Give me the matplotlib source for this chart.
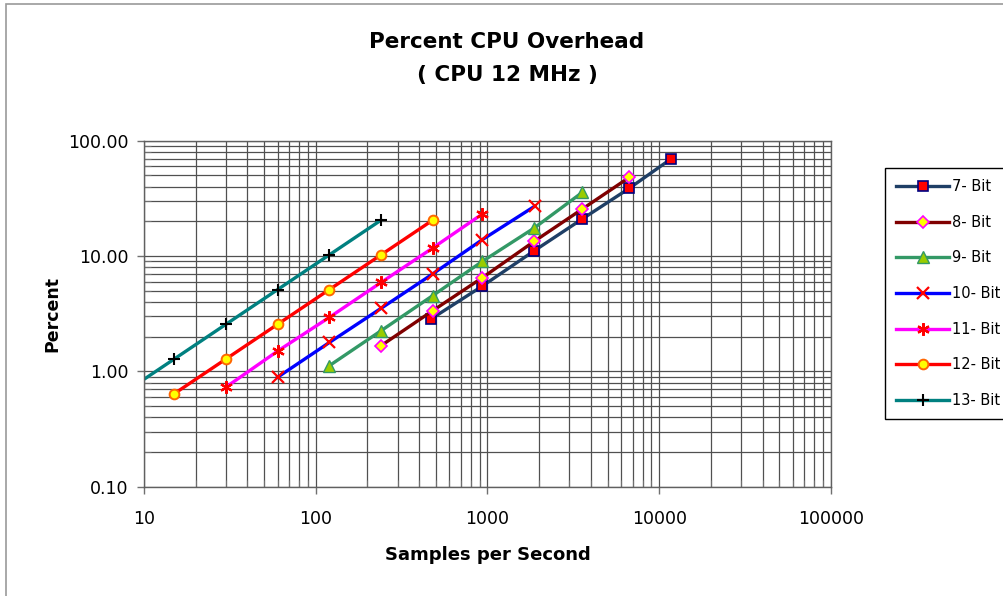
import matplotlib
matplotlib.use("Agg")
import matplotlib.pyplot as plt
from matplotlib.ticker import FixedLocator, FuncFormatter, LogLocator, NullFormatter
from matplotlib.patches import Rectangle

plt.rcParams['font.family'] = ['DejaVu Sans']

# ---- data ----
labels = ["7- Bit", "8- Bit", "9- Bit", "10- Bit", "11- Bit", "12- Bit", "13- Bit"]

x_7 = [470, 935, 1870, 3570, 6680, 11700]
y_7 = [2.85, 5.5, 11.1, 21.0, 38.6, 69.5]

x_8 = [240, 480, 935, 1870, 3570, 6680]
y_8 = [1.67, 3.36, 6.5, 13.4, 25.6, 48.0]

x_9 = [120, 240, 480, 935, 1870, 3570]
y_9 = [1.12, 2.25, 4.54, 9.0, 17.5, 35.7]

x_10 = [60, 120, 240, 480, 935, 1880]
y_10 = [0.89, 1.78, 3.52, 7.0, 13.9, 27.0]

x_11 = [30, 60, 120, 240, 480, 935]
y_11 = [0.73, 1.50, 2.94, 5.9, 11.75, 23.2]

x_12 = [15, 30, 60, 120, 240, 480]
y_12 = [0.64, 1.28, 2.56, 5.12, 10.24, 20.48]

x_13 = [7.5, 15, 30, 60, 120, 240]
y_13 = [0.64, 1.28, 2.56, 5.12, 10.24, 20.48]

x_ticks = [10, 100, 1000, 10000, 100000]
y_ticks = [0.1, 1, 10, 100]

series = [
    (x_7, y_7, dict(color='#1F3F66', marker='s', ms=7, mfc='#FF0000', mec='#000080', mew=1.2)),
    (x_8, y_8, dict(color='#800000', marker='D', ms=6, mfc='#FFFF00', mec='#FF00FF', mew=1.2)),
    (x_9, y_9, dict(color='#339966', marker='^', ms=8, mfc='#99CC00', mec='#339966', mew=1.0)),
    (x_10, y_10, dict(color='#0000FF', marker='x', ms=8, mfc='#FF0000', mec='#FF0000', mew=1.6)),
    (x_11, y_11, dict(color='#FF00FF', marker=(6, 2, 0), ms=9, mfc='#FF0000', mec='#FF0000', mew=1.6)),
    (x_12, y_12, dict(color='#FF0000', marker='o', ms=7, mfc='#FFFF00', mec='#FF6600', mew=1.4)),
    (x_13, y_13, dict(color='#008080', marker='+', ms=9, mfc='#000000', mec='#000000', mew=1.5)),
]

fig = plt.figure(figsize=(10.04, 5.96), dpi=100)
fig.patch.set_facecolor('white')

# outer chart-area border (right and bottom edges lie outside the picture)
fig.patches.append(Rectangle((6 / 1004, -0.2), 1.2, 1.2 - 4 / 596,
                             transform=fig.transFigure, fill=False,
                             edgecolor='#9a9a9a', lw=1.2))

ax = fig.add_axes([144 / 1004, 1 - 486.7 / 596, (831 - 144) / 1004, (486.7 - 140.7) / 596])
ax.set_xscale('log')
ax.set_yscale('log')
ax.set_xlim(10, 100000)
ax.set_ylim(0.1, 100)

for (xs, ys, st), lab in zip(series, labels):
    ax.plot(xs, ys, lw=2.4, label=lab, **st)

ax.xaxis.set_major_locator(FixedLocator(x_ticks))
ax.yaxis.set_major_locator(FixedLocator(y_ticks))
ax.xaxis.set_minor_locator(LogLocator(base=10, subs=range(2, 10)))
ax.yaxis.set_minor_locator(LogLocator(base=10, subs=range(2, 10)))
ax.xaxis.set_minor_formatter(NullFormatter())
ax.yaxis.set_minor_formatter(NullFormatter())
ax.xaxis.set_major_formatter(FuncFormatter(lambda v, p: f"{int(round(v))}"))
ax.yaxis.set_major_formatter(FuncFormatter(lambda v, p: f"{v:.2f}"))

ax.grid(True, which='both', color='#505050', lw=0.9)
ax.set_axisbelow(True)

ax.tick_params(axis='both', which='major', direction='out', length=5, width=1,
               color='#707070', labelsize=12.5)
ax.tick_params(axis='x', which='major', pad=12)
ax.tick_params(axis='y', which='major', pad=6)
ax.tick_params(axis='both', which='minor', direction='in', length=5, width=0.8, color='#707070')
for s in ax.spines.values():
    s.set_color('#606060')
    s.set_linewidth(1)

ax.set_xlabel("Samples per Second", fontsize=13, fontweight='bold', labelpad=13)
ax.set_ylabel("Percent", fontsize=12.5, fontweight='bold', labelpad=5)

fig.text(507 / 1004, 1 - 42 / 596, "Percent CPU Overhead", ha='center', va='center',
         fontsize=15.5, fontweight='bold')
fig.text(507 / 1004, 1 - 75 / 596, "( CPU 12 MHz )", ha='center', va='center',
         fontsize=15.5, fontweight='bold')

leg = ax.legend(loc='upper left', bbox_to_anchor=(885 / 1004, 1 - 168 / 596),
                bbox_transform=fig.transFigure, fontsize=10.5, frameon=True,
                fancybox=False, edgecolor='#000000', framealpha=1,
                handlelength=3.6, handletextpad=0.2, labelspacing=1.41,
                borderpad=0.78, borderaxespad=0)
leg.get_frame().set_linewidth(1.0)

fig.savefig("out.png", dpi=100, facecolor='white')
